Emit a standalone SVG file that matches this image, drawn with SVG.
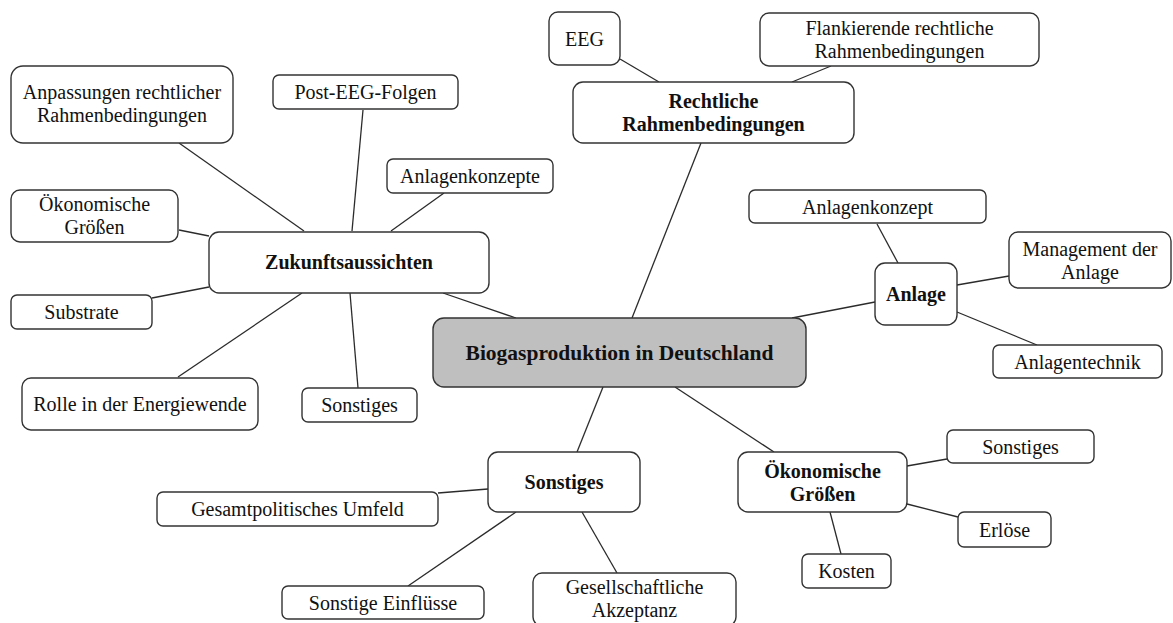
<svg xmlns="http://www.w3.org/2000/svg" width="1173" height="623" viewBox="0 0 1173 623">
<style>
rect{fill:#fff;stroke:#333;stroke-width:1.4}
rect.root{fill:#bfbfbf}
text{font-family:"Liberation Serif","Times New Roman",serif;font-size:20px;fill:#111;text-anchor:middle}
text.b{font-weight:bold}
text.big{font-size:21.5px}
#connectors line{stroke:#2b2b2b;stroke-width:1.3}
</style>
<rect x="0" y="0" width="1173" height="623" style="fill:#fff;stroke:none"/>
<g id="connectors">
<line x1="304" y1="231" x2="179" y2="143"/>
<line x1="352" y1="231" x2="363" y2="110"/>
<line x1="391" y1="231" x2="444" y2="193"/>
<line x1="209" y1="236" x2="179" y2="230"/>
<line x1="209" y1="287" x2="152" y2="298"/>
<line x1="302" y1="293" x2="178" y2="377"/>
<line x1="350" y1="293" x2="358" y2="388"/>
<line x1="443" y1="293" x2="516" y2="318"/>
<line x1="659" y1="82" x2="620" y2="59"/>
<line x1="792" y1="82" x2="831" y2="66"/>
<line x1="701" y1="143" x2="632" y2="318"/>
<line x1="875" y1="302" x2="792" y2="318"/>
<line x1="898" y1="263" x2="877" y2="224"/>
<line x1="957" y1="285" x2="1009" y2="276"/>
<line x1="957" y1="312" x2="1037" y2="345"/>
<line x1="603" y1="387" x2="577" y2="452"/>
<line x1="675" y1="387" x2="774" y2="452"/>
<line x1="488" y1="489" x2="438" y2="493"/>
<line x1="516" y1="512" x2="408" y2="586"/>
<line x1="582" y1="512" x2="617" y2="573"/>
<line x1="907" y1="466" x2="947" y2="459"/>
<line x1="907" y1="504" x2="958" y2="517"/>
<line x1="830" y1="512" x2="841" y2="554"/>
</g>
<g id="n-root"><rect class="root" x="433" y="318" width="373" height="69" rx="11"/><text class="b big" x="619.5" y="360">Biogasproduktion in Deutschland</text></g>
<g id="n-zukunft"><rect x="209" y="232" width="280" height="61" rx="10"/><text class="b" x="349" y="269">Zukunftsaussichten</text></g>
<g id="n-anpassungen"><rect x="11" y="66" width="222" height="77" rx="12"/><text x="122" y="99">Anpassungen rechtlicher</text><text x="122" y="122">Rahmenbedingungen</text></g>
<g id="n-postEEG"><rect x="273" y="75" width="185" height="34" rx="6"/><text x="365.5" y="99">Post-EEG-Folgen</text></g>
<g id="n-anlagenkonzepte"><rect x="387" y="159" width="166" height="34" rx="6"/><text x="470" y="183">Anlagenkonzepte</text></g>
<g id="n-oek-left"><rect x="11" y="190" width="167" height="52" rx="9"/><text x="94.5" y="211">Ökonomische</text><text x="94.5" y="234">Größen</text></g>
<g id="n-substrate"><rect x="11" y="295" width="141" height="34" rx="6"/><text x="81.5" y="319">Substrate</text></g>
<g id="n-rolle"><rect x="22" y="378" width="236" height="52" rx="9"/><text x="140" y="411">Rolle in der Energiewende</text></g>
<g id="n-sonstiges-left"><rect x="302" y="388" width="115" height="34" rx="6"/><text x="359.5" y="412">Sonstiges</text></g>
<g id="n-rechtliche"><rect x="573" y="82" width="281" height="61" rx="10"/><text class="b" x="713.5" y="108">Rechtliche</text><text class="b" x="713.5" y="131">Rahmenbedingungen</text></g>
<g id="n-eeg"><rect x="549" y="12" width="71" height="53" rx="9"/><text x="584.5" y="45.5">EEG</text></g>
<g id="n-flank"><rect x="760" y="13" width="279" height="53" rx="9"/><text x="899.5" y="35">Flankierende rechtliche</text><text x="899.5" y="58">Rahmenbedingungen</text></g>
<g id="n-anlage"><rect x="875" y="263" width="82" height="62" rx="10"/><text class="b" x="916" y="301">Anlage</text></g>
<g id="n-anlagenkonzept"><rect x="749" y="190" width="237" height="33" rx="6"/><text x="867.5" y="213.5">Anlagenkonzept</text></g>
<g id="n-management"><rect x="1009" y="232" width="162" height="56" rx="9"/><text x="1090" y="256">Management der</text><text x="1090" y="278.5">Anlage</text></g>
<g id="n-anlagentechnik"><rect x="993" y="345" width="169" height="33" rx="6"/><text x="1077.5" y="368.5">Anlagentechnik</text></g>
<g id="n-sonstiges"><rect x="488" y="452" width="152" height="60" rx="10"/><text class="b" x="564" y="489">Sonstiges</text></g>
<g id="n-gesamt"><rect x="157" y="492" width="281" height="34" rx="6"/><text x="297.5" y="516">Gesamtpolitisches Umfeld</text></g>
<g id="n-einfluesse"><rect x="282" y="586" width="202" height="33" rx="6"/><text x="383" y="609.5">Sonstige Einflüsse</text></g>
<g id="n-gesell"><rect x="533" y="573" width="203" height="53" rx="9"/><text x="634.5" y="594">Gesellschaftliche</text><text x="634.5" y="617">Akzeptanz</text></g>
<g id="n-oek"><rect x="738" y="452" width="169" height="60" rx="10"/><text class="b" x="822.5" y="477.5">Ökonomische</text><text class="b" x="822.5" y="500.5">Größen</text></g>
<g id="n-sonstiges-right"><rect x="947" y="430" width="147" height="33" rx="6"/><text x="1020.5" y="453.5">Sonstiges</text></g>
<g id="n-erloese"><rect x="958" y="512" width="93" height="35" rx="6"/><text x="1004.5" y="536.5">Erlöse</text></g>
<g id="n-kosten"><rect x="802" y="554" width="89" height="34" rx="6"/><text x="846.5" y="578">Kosten</text></g>
</svg>
